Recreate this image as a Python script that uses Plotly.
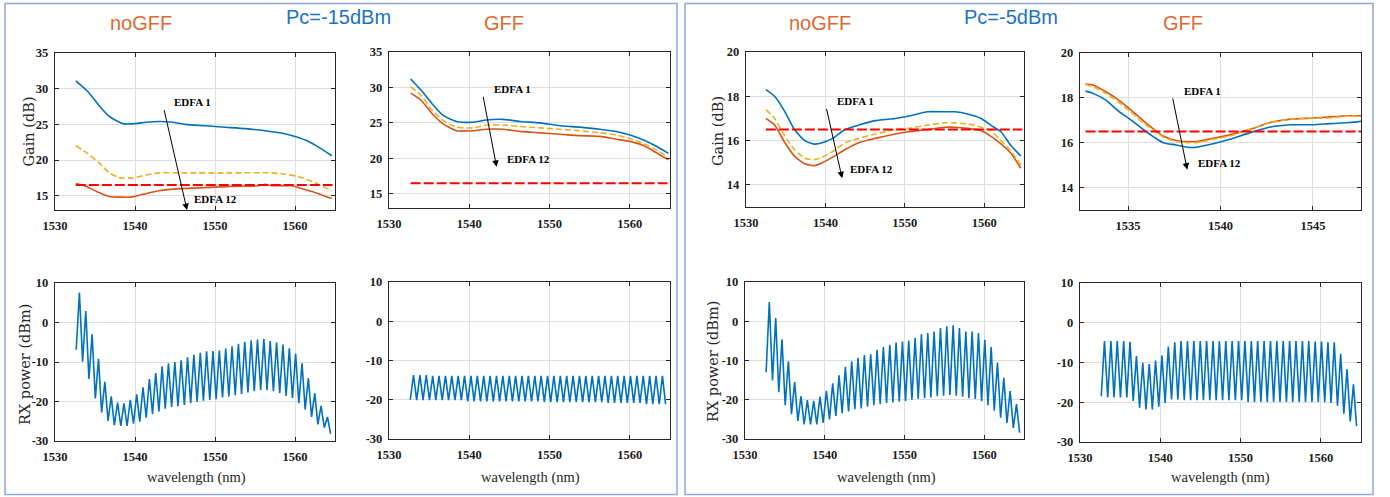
import plotly.graph_objects as go
from plotly.subplots import make_subplots

W, H = 1390, 497

# ---------------- Gain data ----------------
# Panel 1: noGFF, Pc=-15dBm
g1_blue_x = [1532.6, 1534.1, 1535.6, 1536.8, 1538.5, 1540.0, 1541.4, 1543.0, 1544.7, 1546.3, 1548.8, 1551.3, 1553.8, 1556.3, 1558.3, 1560.0, 1561.7, 1563.1, 1564.6]
g1_blue_y = [31.1, 29.6, 27.5, 26.1, 25.1, 25.1, 25.3, 25.4, 25.3, 25.0, 24.8, 24.6, 24.4, 24.1, 23.8, 23.3, 22.6, 21.7, 20.6]
g1_yel_x = [1532.6, 1534.1, 1535.6, 1536.8, 1538.1, 1539.7, 1541.4, 1543.0, 1546.3, 1552.1, 1557.1, 1558.8, 1560.4, 1562.1, 1564.6]
g1_yel_y = [22.0, 20.9, 19.5, 18.2, 17.5, 17.5, 17.9, 18.2, 18.2, 18.2, 18.2, 18.0, 17.7, 17.0, 15.7]
g1_org_x = [1532.6, 1533.7, 1535.2, 1536.8, 1538.1, 1539.5, 1541.0, 1543.0, 1545.5, 1548.0, 1552.1, 1555.4, 1556.3, 1557.1, 1559.6, 1560.8, 1562.1, 1564.6]
g1_org_y = [16.7, 16.4, 15.6, 14.9, 14.8, 14.8, 15.2, 15.7, 16.0, 16.1, 16.3, 16.4, 16.6, 16.4, 16.4, 16.0, 15.6, 14.6]
g1_ref_x = [1532.6, 1564.7]
g1_ref_y = [16.5, 16.5]

# Panel 2: GFF, Pc=-15dBm
g2_x = [1532.7, 1534.0, 1535.3, 1536.7, 1538.4, 1540.5, 1542.1, 1544.2, 1546.3, 1548.8, 1551.3, 1553.8, 1556.3, 1558.3, 1560.0, 1561.7, 1563.3, 1564.8]
g2_blue_y = [31.2, 29.6, 27.8, 26.1, 25.2, 25.1, 25.4, 25.5, 25.2, 25.0, 24.6, 24.4, 24.1, 23.8, 23.3, 22.6, 21.7, 20.7]
g2_yel_y = [30.1, 28.9, 26.9, 25.4, 24.4, 24.3, 24.7, 24.7, 24.5, 24.3, 24.1, 23.9, 23.6, 23.3, 22.8, 22.1, 21.2, 20.2]
g2_org_y = [29.2, 28.2, 26.4, 24.9, 23.9, 23.9, 24.1, 24.1, 23.8, 23.6, 23.4, 23.2, 23.1, 22.7, 22.4, 21.8, 20.8, 19.8]
g2_ref_x = [1532.7, 1564.7]
g2_ref_y = [16.5, 16.5]

# Panel 3: noGFF, Pc=-5dBm
g3_x = [1532.5, 1533.6, 1534.9, 1536.1, 1537.4, 1538.6, 1539.6, 1540.9, 1542.5, 1544.2, 1546.3, 1548.8, 1550.4, 1552.9, 1555.0, 1556.3, 1557.9, 1559.6, 1560.8, 1562.1, 1563.3, 1564.6]
g3_blue_y = [18.3, 18.0, 17.3, 16.5, 16.0, 15.84, 15.9, 16.1, 16.5, 16.7, 16.9, 17.0, 17.1, 17.3, 17.3, 17.3, 17.2, 17.0, 16.7, 16.4, 15.8, 15.3]
g3_yel_y = [17.4, 17.0, 16.2, 15.6, 15.2, 15.14, 15.25, 15.5, 15.9, 16.1, 16.3, 16.5, 16.55, 16.7, 16.8, 16.8, 16.75, 16.6, 16.45, 16.0, 15.55, 14.9]
g3_org_y = [17.0, 16.7, 15.9, 15.3, 14.95, 14.87, 15.0, 15.25, 15.6, 15.9, 16.1, 16.3, 16.4, 16.5, 16.6, 16.6, 16.55, 16.45, 16.2, 15.85, 15.45, 14.75]
g3_ref_x = [1532.5, 1564.8]
g3_ref_y = [16.5, 16.5]

# Panel 4: GFF, Pc=-5dBm
g4_x = [1532.7, 1533.1, 1533.8, 1534.5, 1535.1, 1535.8, 1536.4, 1536.9, 1537.6, 1538.2, 1538.7, 1539.6, 1540.5, 1541.6, 1542.7, 1543.8, 1545.0, 1545.9, 1547.0, 1547.6]
g4_blue_y = [18.3, 18.2, 17.9, 17.4, 17.05, 16.6, 16.25, 16.0, 15.9, 15.8, 15.8, 15.95, 16.15, 16.45, 16.7, 16.8, 16.8, 16.85, 16.9, 16.95]
g4_yel_y = [18.6, 18.5, 18.2, 17.8, 17.4, 16.9, 16.55, 16.25, 16.05, 16.0, 16.0, 16.15, 16.3, 16.6, 16.9, 17.05, 17.1, 17.1, 17.2, 17.15]
g4_org_y = [18.62, 18.57, 18.27, 17.9, 17.5, 17.0, 16.6, 16.3, 16.1, 16.05, 16.05, 16.2, 16.35, 16.6, 16.9, 17.05, 17.1, 17.15, 17.2, 17.2]
g4_ref_x = [1532.7, 1547.6]
g4_ref_y = [16.5, 16.5]

# ---------------- RX power data ----------------
ch_peak_wl = [1533.05, 1533.85, 1534.64, 1535.44, 1536.23, 1537.03, 1537.82, 1538.62, 1539.41, 1540.21,
              1541.00, 1541.80, 1542.59, 1543.39, 1544.18, 1544.98, 1545.77, 1546.57, 1547.36, 1548.16,
              1548.95, 1549.75, 1550.54, 1551.34, 1552.13, 1552.93, 1553.72, 1554.52, 1555.31, 1556.11,
              1556.90, 1557.70, 1558.49, 1559.29, 1560.08, 1560.88, 1561.67, 1562.47, 1563.26, 1564.06]
ch_trough_wl = [1532.65, 1533.45, 1534.24, 1535.04, 1535.83, 1536.63, 1537.42, 1538.22, 1539.01, 1539.81,
                1540.60, 1541.40, 1542.19, 1542.99, 1543.78, 1544.58, 1545.37, 1546.17, 1546.96, 1547.76,
                1548.55, 1549.35, 1550.14, 1550.94, 1551.73, 1552.53, 1553.32, 1554.12, 1554.91, 1555.71,
                1556.50, 1557.30, 1558.09, 1558.89, 1559.68, 1560.48, 1561.27, 1562.07, 1562.86, 1563.66, 1564.45]

rx5_peak = [7.6, 2.9, -3.0, -9.2, -15.0, -18.7, -20.3, -20.5, -19.6, -18.2, -16.4, -14.3, -12.8, -11.1, -10.3, -10.0, -9.6, -8.8, -8.2, -7.7,
            -7.3, -7.2, -7.1, -6.6, -6.0, -5.4, -4.9, -4.5, -4.3, -4.2, -4.7, -5.1, -5.6, -6.5, -7.9, -10.3, -14.1, -17.9, -21.1, -23.9]
rx5_trough = [-6.9, -9.9, -14.3, -19.2, -22.8, -24.9, -26.0, -26.2, -26.2, -25.6, -25.1, -24.1, -23.2, -22.5, -21.8, -21.4, -21.2, -20.9, -20.4, -20.1,
              -19.8, -19.6, -19.4, -19.0, -18.7, -18.4, -18.1, -17.7, -17.4, -17.1, -17.1, -17.4, -17.9, -18.6, -19.1, -20.4, -22.0, -23.9, -25.8, -26.6, -28.2]

rx6_peak = [-13.7, -13.7, -13.7, -13.9, -13.9, -13.9, -13.9, -13.9, -13.9, -13.9, -13.9, -13.9, -13.9, -13.9, -13.9, -13.9, -13.9, -13.9, -13.9, -13.9,
            -13.9, -13.9, -13.9, -13.9, -13.9, -13.9, -13.9, -13.9, -13.9, -13.9, -13.9, -13.9, -13.9, -13.9, -13.9, -13.9, -13.9, -13.9, -13.9, -13.9]
rx6_trough = [-20.0, -20.1, -20.1, -20.1, -20.1, -20.1, -20.1, -20.1, -20.1, -20.4, -20.4, -20.4, -20.4, -20.4, -20.4, -20.4, -20.4, -20.4, -20.4, -20.4,
              -20.4, -20.6, -20.6, -20.6, -20.6, -20.6, -20.6, -20.6, -20.6, -20.6, -20.6, -20.8, -20.8, -20.8, -20.8, -20.8, -20.8, -21.1, -21.1, -21.1, -21.1]

rx7_peak = [4.9, 0.8, -4.6, -10.2, -15.5, -19.1, -20.1, -20.3, -19.2, -17.7, -15.8, -13.8, -11.6, -10.2, -9.3, -8.6, -8.4, -7.3, -6.6, -6.0,
            -5.4, -5.2, -4.9, -4.3, -3.3, -3.0, -2.6, -1.7, -1.3, -1.0, -1.7, -2.6, -2.6, -3.0, -4.7, -6.6, -10.5, -14.4, -17.8, -21.1]
rx7_trough = [-13.0, -15.1, -18.1, -21.4, -23.7, -25.4, -26.3, -26.3, -26.3, -25.9, -25.0, -24.1, -23.4, -23.0, -22.4, -22.2, -21.8, -21.4, -21.1, -20.8,
              -20.7, -20.5, -20.3, -20.0, -19.8, -19.6, -19.4, -19.1, -19.0, -18.8, -19.0, -19.2, -19.6, -19.8, -20.4, -21.4, -22.8, -24.6, -25.9, -27.2, -28.4]

rx8_peak = [-4.6, -4.6, -4.6, -4.6, -4.8, -8.4, -10.1, -10.4, -9.5, -8.2, -6.0, -4.9, -4.6, -4.6, -4.6, -4.6, -4.6, -4.6, -4.6, -4.6,
            -4.6, -4.6, -4.6, -4.6, -4.6, -4.6, -4.6, -4.6, -4.6, -4.6, -4.6, -4.6, -4.6, -4.7, -4.7, -4.9, -4.9, -7.8, -11.7, -15.5]
rx8_trough = [-18.5, -18.8, -18.8, -18.8, -18.8, -19.7, -21.4, -21.8, -21.8, -21.1, -20.2, -19.3, -19.3, -19.5, -19.5, -19.5, -19.5, -19.5, -19.5, -19.5,
              -19.5, -19.5, -19.5, -19.9, -19.9, -19.9, -19.9, -19.9, -19.9, -19.9, -19.9, -19.9, -19.9, -19.9, -19.9, -19.9, -20.2, -20.9, -22.9, -24.8, -26.0]

gain_ticks_15 = [15, 20, 25, 30, 35]
gain_ticks_5 = [14, 16, 18, 20]
rx_ticks = [-30, -20, -10, 0, 10]
wl_ticks = [1530, 1540, 1550, 1560]
wl_ticks_zoom = [1535, 1540, 1545]

BLUE = "#0072BD"
ORANGE = "#D95319"
YELLOW = "#EDB120"
RED = "#FF0000"

fig = make_subplots(rows=2, cols=4)

def gain_lines(row, col, xb, yb, xy, yy, xo, yo, xr, yr):
    fig.add_trace(go.Scatter(x=xb, y=yb, mode="lines", line=dict(color=BLUE, width=1.6, shape="spline", smoothing=0.6), showlegend=False), row=row, col=col)
    fig.add_trace(go.Scatter(x=xo, y=yo, mode="lines", line=dict(color=ORANGE, width=1.6, shape="spline", smoothing=0.6), showlegend=False), row=row, col=col)
    fig.add_trace(go.Scatter(x=xy, y=yy, mode="lines", line=dict(color=YELLOW, width=1.6, dash="6px,3px", shape="spline", smoothing=0.6), showlegend=False), row=row, col=col)
    fig.add_trace(go.Scatter(x=xr, y=yr, mode="lines", line=dict(color=RED, width=2, dash="10px,3px"), showlegend=False), row=row, col=col)

gain_lines(1, 1, g1_blue_x, g1_blue_y, g1_yel_x, g1_yel_y, g1_org_x, g1_org_y, g1_ref_x, g1_ref_y)
gain_lines(1, 2, g2_x, g2_blue_y, g2_x, g2_yel_y, g2_x, g2_org_y, g2_ref_x, g2_ref_y)
gain_lines(1, 3, g3_x, g3_blue_y, g3_x, g3_yel_y, g3_x, g3_org_y, g3_ref_x, g3_ref_y)
gain_lines(1, 4, g4_x, g4_blue_y, g4_x, g4_yel_y, g4_x, g4_org_y, g4_ref_x, g4_ref_y)

def interleave(troughs, peaks):
    xs, ys = [], []
    for i in range(len(peaks)):
        xs += [ch_trough_wl[i], ch_peak_wl[i]]
        ys += [troughs[i], peaks[i]]
    xs.append(ch_trough_wl[len(peaks)])
    ys.append(troughs[len(peaks)])
    return xs, ys

for col, (tr, pk) in enumerate([(rx5_trough, rx5_peak), (rx6_trough, rx6_peak), (rx7_trough, rx7_peak), (rx8_trough, rx8_peak)], start=1):
    xs, ys = interleave(tr, pk)
    fig.add_trace(go.Scatter(x=xs, y=ys, mode="lines", line=dict(color=BLUE, width=1.6), showlegend=False), row=2, col=col)

# ---------------- layout ----------------
boxes = {1: (55, 53, 335, 210), 2: (389, 52, 670, 208), 3: (746, 52, 1024, 207), 4: (1080, 53, 1361, 210),
         5: (55, 283, 335, 441), 6: (389, 282, 670, 439), 7: (745, 282, 1024, 439), 8: (1080, 283, 1361, 442)}

tickfont = dict(family="Liberation Serif", size=12.5, color="#1a1a1a")
common = dict(showline=True, linecolor="#262626", linewidth=1.3, mirror="ticks", ticks="inside", ticklen=4,
              tickcolor="#262626", showgrid=True, gridcolor="#DEDEDE", gridwidth=1, zeroline=False, tickfont=tickfont,
              automargin=False)

def bold(vals):
    return ["<b>%s</b>" % v for v in vals]

for i, (l, t, r, b) in boxes.items():
    sfx = "" if i == 1 else str(i)
    xa = dict(common, domain=[l / W, r / W], ticklabelstandoff=4)
    ya = dict(common, domain=[1 - b / H, 1 - t / H], ticklabelstandoff=3)
    if i in (1, 2):
        xa.update(range=[1530, 1565], tickvals=wl_ticks, ticktext=bold(wl_ticks))
        ya.update(range=[13, 35], tickvals=gain_ticks_15, ticktext=bold(gain_ticks_15))
    elif i == 3:
        xa.update(range=[1530, 1565], tickvals=wl_ticks, ticktext=bold(wl_ticks))
        ya.update(range=[13, 20], tickvals=gain_ticks_5, ticktext=bold(gain_ticks_5))
    elif i == 4:
        xa.update(range=[1532.4, 1547.6], tickvals=wl_ticks_zoom, ticktext=bold(wl_ticks_zoom))
        ya.update(range=[13, 20], tickvals=gain_ticks_5, ticktext=bold(gain_ticks_5))
    else:
        xa.update(range=[1530, 1565], tickvals=wl_ticks, ticktext=bold(wl_ticks))
        ya.update(range=[-30, 10], tickvals=rx_ticks, ticktext=bold(rx_ticks))
    fig.layout["xaxis" + sfx].update(xa)
    fig.layout["yaxis" + sfx].update(ya)

ann = []
# Section titles
ttl = dict(family="Liberation Sans", size=20)
for txt, px, py, colr in [("noGFF", 141, 22.5, "#DD6A32"), ("Pc=-15dBm", 338, 17, "#1C72C4"), ("GFF", 504, 22.5, "#DD6A32"),
                          ("noGFF", 820, 22.5, "#DD6A32"), ("Pc=-5dBm", 1011, 17, "#1C72C4"), ("GFF", 1183, 22.5, "#DD6A32")]:
    ann.append(dict(text=txt, x=px / W, y=1 - py / H, xref="paper", yref="paper", xanchor="center", yanchor="middle",
                    showarrow=False, font=dict(ttl, color=colr)))

# Axis titles
yt_font = dict(family="DejaVu Serif", size=14.5, color="#262626")
xt_font = dict(family="Liberation Serif", size=14.5, color="#262626")
for txt, px, py in [("Gain (dB)", 28, 131.5), ("Gain (dB)", 718, 131), ("RX power (dBm)", 25, 365), ("RX power (dBm)", 713, 362)]:
    ann.append(dict(text=txt, x=px / W, y=1 - py / H, xref="paper", yref="paper", xanchor="center", yanchor="middle",
                    textangle=-90, showarrow=False, font=yt_font))
for px in [196, 530, 886, 1220]:
    ann.append(dict(text="wavelength (nm)", x=px / W, y=1 - 477 / H, xref="paper", yref="paper", xanchor="center",
                    yanchor="middle", showarrow=False, font=xt_font))

# EDFA arrows and labels
lab_font = dict(family="Liberation Serif", size=11, color="black")
arrows = [
    ("x", "y", (1543.6, 27.2), (1546.5, 13.0), (1544.6, 28.1), (1547.1, 14.6)),
    ("x2", "y2", (1541.7, 28.9), (1543.4, 18.8), (1542.8, 29.8), (1544.4, 19.9)),
    ("x3", "y3", (1540.1, 17.5), (1542.1, 14.3), (1541.2, 17.8), (1542.8, 14.7)),
    ("x4", "y4", (1537.4, 18.04), (1538.2, 14.8), (1537.9, 18.3), (1538.7, 15.1)),
]
for xr, yr, tail, head, t1, t12 in arrows:
    ann.append(dict(x=head[0], y=head[1], ax=tail[0], ay=tail[1], xref=xr, yref=yr, axref=xr, ayref=yr, text="",
                    showarrow=True, arrowhead=2, arrowsize=1.3, arrowwidth=1, arrowcolor="black"))
    ann.append(dict(x=t1[0], y=t1[1], xref=xr, yref=yr, text="<b>EDFA 1</b>", showarrow=False, xanchor="left", yanchor="middle", font=lab_font))
    ann.append(dict(x=t12[0], y=t12[1], xref=xr, yref=yr, text="<b>EDFA 12</b>", showarrow=False, xanchor="left", yanchor="middle", font=lab_font))

shapes = [
    dict(type="rect", xref="paper", yref="paper", x0=5 / W, x1=677 / W, y0=1 - 494.5 / H, y1=1 - 3.5 / H,
         line=dict(color="#8EA9DB", width=1.5), fillcolor="rgba(0,0,0,0)", layer="below"),
    dict(type="rect", xref="paper", yref="paper", x0=685 / W, x1=1373 / W, y0=1 - 494.5 / H, y1=1 - 3.5 / H,
         line=dict(color="#8EA9DB", width=1.5), fillcolor="rgba(0,0,0,0)", layer="below"),
]

fig.update_layout(width=W, height=H, margin=dict(l=0, r=0, t=0, b=0, autoexpand=False), paper_bgcolor="white",
                  plot_bgcolor="white", annotations=ann, shapes=shapes, showlegend=False, hovermode=False)

fig.write_html("out.html", config={"responsive": False, "displayModeBar": False},
               post_script="document.body.style.margin='0';document.body.style.padding='0';document.body.style.overflow='hidden';")
